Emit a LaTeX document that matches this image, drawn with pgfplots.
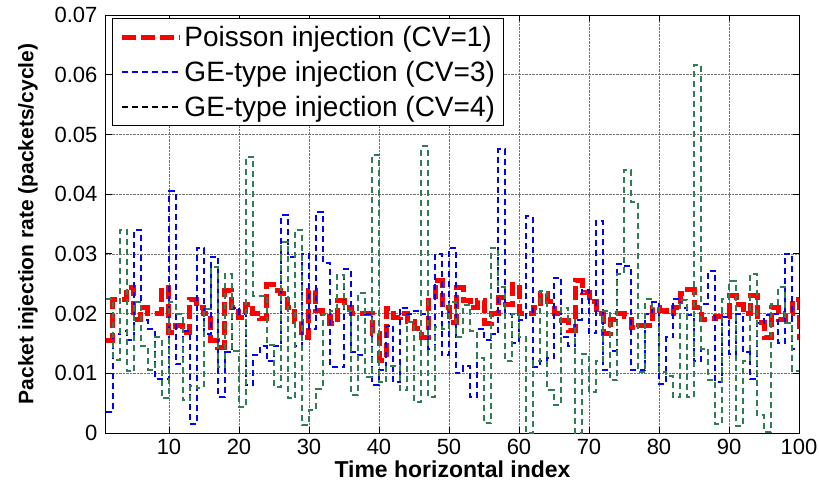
\documentclass[border=0pt]{standalone}
\usepackage{fontspec}
\setmainfont{Liberation Sans}
\usepackage{pgfplots}
\usepackage{pgfplotstable}
\pgfplotsset{compat=1.18}
\definecolor{myred}{RGB}{255,0,0}
\definecolor{myblue}{RGB}{0,0,255}
\definecolor{mygreen}{RGB}{46,125,85}
\pgfplotstableread{
x r b g
1 0.0155 0.0035 0.0224
2 0.0224 0.0165 0.0123
3 0.0224 0.0170 0.0340
4 0.0244 0.0155 0.0103
5 0.0190 0.0340 0.0220
6 0.0210 0.0190 0.0145
7 0.0200 0.0175 0.0106
8 0.0200 0.0090 0.0160
9 0.0244 0.0090 0.0058
10 0.0169 0.0405 0.0219
11 0.0180 0.0115 0.0200
12 0.0169 0.0170 0.0055
13 0.0224 0.0015 0.0078
14 0.0210 0.0310 0.0076
15 0.0200 0.0165 0.0207
16 0.0155 0.0295 0.0278
17 0.0144 0.0060 0.0110
18 0.0238 0.0135 0.0266
19 0.0210 0.0210 0.0137
20 0.0194 0.0200 0.0044
21 0.0216 0.0080 0.0463
22 0.0200 0.0130 0.0230
23 0.0191 0.0145 0.0230
24 0.0249 0.0120 0.0147
25 0.0238 0.0145 0.0077
26 0.0233 0.0365 0.0320
27 0.0210 0.0295 0.0058
28 0.0186 0.0145 0.0340
29 0.0160 0.0300 0.0013
30 0.0238 0.0175 0.0038
31 0.0205 0.0370 0.0074
32 0.0200 0.0285 0.0200
33 0.0183 0.0110 0.0205
34 0.0222 0.0110 0.0264
35 0.0210 0.0275 0.0205
36 0.0200 0.0135 0.0063
37 0.0200 0.0130 0.0234
38 0.0200 0.0200 0.0094
39 0.0167 0.0080 0.0466
40 0.0122 0.0105 0.0085
41 0.0208 0.0180 0.0113
42 0.0194 0.0085 0.0113
43 0.0200 0.0210 0.0072
44 0.0186 0.0200 0.0186
45 0.0175 0.0205 0.0052
46 0.0160 0.0200 0.0480
47 0.0222 0.0140 0.0060
48 0.0255 0.0300 0.0178
49 0.0210 0.0130 0.0175
50 0.0185 0.0310 0.0220
51 0.0244 0.0100 0.0160
52 0.0222 0.0112 0.0214
53 0.0210 0.0060 0.0170
54 0.0222 0.0175 0.0126
55 0.0183 0.0155 0.0016
56 0.0200 0.0165 0.0310
57 0.0227 0.0475 0.0245
58 0.0215 0.0200 0.0120
59 0.0249 0.0150 0.0200
60 0.0200 0.0190 0.0160
61 0.0200 0.0363 0.0000
62 0.0210 0.0110 0.0120
63 0.0233 0.0120 0.0238
64 0.0220 0.0125 0.0072
65 0.0200 0.0260 0.0047
66 0.0188 0.0160 0.0210
67 0.0172 0.0145 0.0190
68 0.0255 0.0190 0.0000
69 0.0235 0.0240 0.0133
70 0.0220 0.0167 0.0069
71 0.0200 0.0355 0.0120
72 0.0166 0.0105 0.0205
73 0.0190 0.0138 0.0088
74 0.0200 0.0283 0.0266
75 0.0195 0.0280 0.0441
76 0.0177 0.0105 0.0387
77 0.0180 0.0105 0.0102
78 0.0180 0.0200 0.0224
79 0.0210 0.0220 0.0210
80 0.0205 0.0082 0.0102
81 0.0200 0.0160 0.0096
82 0.0210 0.0225 0.0060
83 0.0233 0.0210 0.0222
84 0.0240 0.0197 0.0060
85 0.0210 0.0120 0.0616
86 0.0190 0.0216 0.0141
87 0.0191 0.0272 0.0088
88 0.0195 0.0085 0.0015
89 0.0195 0.0195 0.0225
90 0.0230 0.0133 0.0255
91 0.0215 0.0200 0.0012
92 0.0200 0.0135 0.0120
93 0.0230 0.0090 0.0266
94 0.0185 0.0185 0.0030
95 0.0160 0.0197 0.0001
96 0.0210 0.0200 0.0216
97 0.0190 0.0150 0.0244
98 0.0200 0.0300 0.0185
99 0.0224 0.0140 0.0104
100 0.0156 0.0140 0.0104
}\data
\begin{document}
\begin{tikzpicture}
\path[use as bounding box] (-106pt,-55pt) rectangle (713pt,433pt);
\begin{axis}[
  at={(0pt,0pt)}, anchor=south west,
  scale only axis, width=693pt, height=418pt,
  xmin=1, xmax=100, ymin=0, ymax=0.07,
  xtick={10,20,30,40,50,60,70,80,90,100},
  xticklabels={10,20,30,40,50,60,70,80,90,100},
  ytick={0,0.01,0.02,0.03,0.04,0.05,0.06,0.07},
  yticklabels={0,0.01,0.02,0.03,0.04,0.05,0.06,0.07},
  scaled y ticks=false,
  tick align=inside, tick pos=both,
  major tick length=6pt,
  tick style={black, line width=0.8pt},
  tick label style={font=\fontsize{22}{25}\selectfont},
  yticklabel style={xshift=-5pt},
  xticklabel style={yshift=-3pt},
  xlabel={Time horizontal index},
  ylabel={Packet injection rate (packets/cycle)},
  xlabel style={font=\fontsize{23}{26}\selectfont\bfseries, yshift=1pt},
  ylabel style={font=\fontsize{21}{24}\selectfont\bfseries, yshift=10pt},
  grid=major,
  major grid style={densely dotted, black!55, line width=0.7pt},
  axis line style={line width=1pt},
  legend style={at={(0,1)}, anchor=north west, xshift=6pt, yshift=-3pt,
    draw=black, line width=1pt, fill=white,
    font=\fontsize{28}{31}\selectfont, row sep=9pt,
    inner xsep=7pt, inner ysep=6pt},
  legend cell align=left,
  legend image code/.code={\draw[#1] (0pt,0pt) -- (58pt,0pt);},
]
\addlegendimage{myred, line width=5pt, dash pattern=on 14pt off 5pt}
\addlegendentry{Poisson injection (CV=1)}
\addlegendimage{myblue, line width=1.8pt, dash pattern=on 6pt off 4pt}
\addlegendentry{GE-type injection (CV=3)}
\addlegendimage{black, line width=1.5pt, dash pattern=on 6pt off 4pt}
\addlegendentry{GE-type injection (CV=4)}
\addplot[const plot, myred, line width=5pt, dash pattern=on 14pt off 5pt, forget plot] table[x=x,y=r]{\data};
\addplot[const plot, myblue, line width=2pt, dash pattern=on 6pt off 4pt, forget plot] table[x=x,y=b]{\data};
\addplot[const plot, mygreen, line width=2pt, dash pattern=on 6pt off 4pt, forget plot] table[x=x,y=g]{\data};
\end{axis}
\end{tikzpicture}
\end{document}
